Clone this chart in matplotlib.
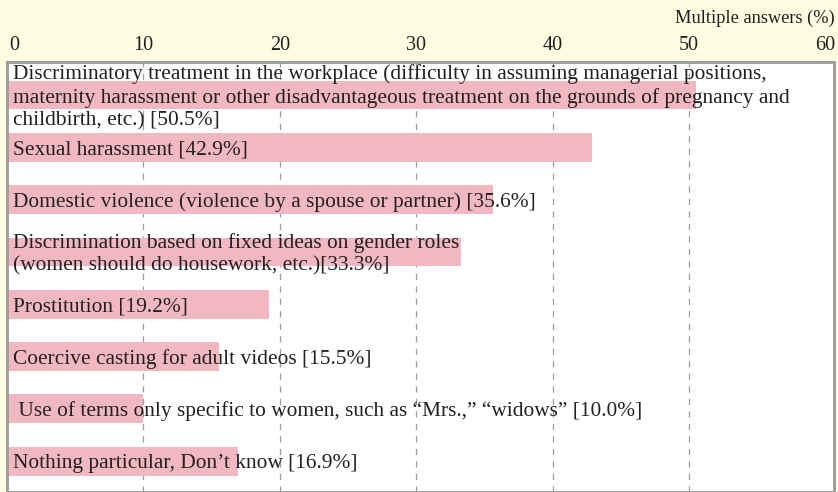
import matplotlib
matplotlib.use("Agg")
import matplotlib.pyplot as plt

labels = [
    "Discriminatory treatment in the workplace (difficulty in assuming managerial positions,\nmaternity harassment or other disadvantageous treatment on the grounds of pregnancy and\nchildbirth, etc.) [50.5%]",
    "Sexual harassment [42.9%]",
    "Domestic violence (violence by a spouse or partner) [35.6%]",
    "Discrimination based on fixed ideas on gender roles\n(women should do housework, etc.)[33.3%]",
    "Prostitution [19.2%]",
    "Coercive casting for adult videos [15.5%]",
    " Use of terms only specific to women, such as \u201cMrs.,\u201d \u201cwidows\u201d [10.0%]",
    "Nothing particular, Don\u2019t know [16.9%]",
]
values = [50.5, 42.9, 35.6, 33.3, 19.2, 15.5, 10.0, 16.9]
ticks = [0, 10, 20, 30, 40, 50, 60]

BG = "#FFFCE1"
BAR = "#F2B8C1"
TXT = "#231F20"

plt.rcParams['font.family'] = ['Liberation Serif', 'DejaVu Serif']

fig = plt.figure(figsize=(8.38, 4.92), dpi=100, facecolor=BG)
ax = fig.add_axes([7/838, 0.0, 827/838, 1 - 62/492])
ax.set_facecolor("white")

ypos = list(range(len(values)))
ax.barh(ypos, values, height=0.55, color=BAR, zorder=1, align='center')
ax.set_xlim(0, 60.6)
ax.set_ylim(7.59, -0.63)

for x in ticks[1:-1]:
    ax.axvline(x, color="#9c9c9c", lw=0.9, ls=(0, (5, 5)), zorder=0.5)

for y, lab in zip(ypos, labels):
    ax.text(0.45, y + 0.045, lab, ha='left', va='center', fontsize=15.4, color=TXT,
            linespacing=1.28, zorder=3)

ax.set_xticks([])
ax.set_yticks([])
for s in ax.spines.values():
    s.set_color("#9a9a9a")
    s.set_linewidth(2)

# top tick labels
for t in ticks:
    xf = (7 + t * 13.64) / 838
    ha = 'center'
    if t == 0:
        xf = 9.5 / 838
        ha = 'left'
    elif t == 60:
        xf = 835 / 838
        ha = 'right'
    fig.text(xf, 1 - 46/492, str(t), ha=ha, va='center', fontsize=14.5, color=TXT)

fig.text(835/838, 1 - 18.5/492, "Multiple answers (%)", ha='right', va='center',
         fontsize=13.2, color=TXT)

fig.savefig("out.png", dpi=100, facecolor=BG)
